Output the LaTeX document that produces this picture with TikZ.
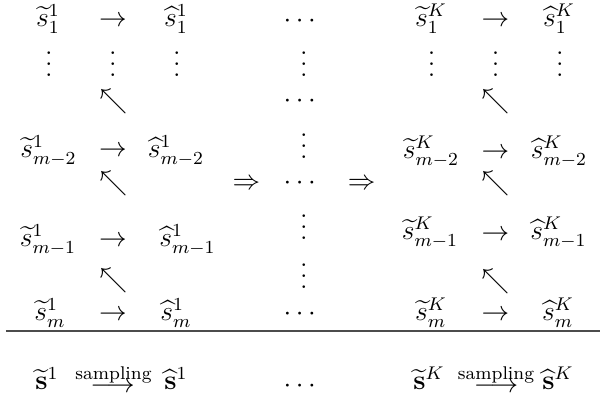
\documentclass[tikz,border=0pt]{standalone}
\usepackage{amsmath}
\newcommand{\myvd}{\vbox{\baselineskip=4.8pt\lineskiplimit=0pt\hbox{.}\hbox{.}\hbox{.}}}
\begin{document}
\begin{tikzpicture}[x=0.43478pt,y=-0.43478pt,
  every node/.style={inner sep=0pt,outer sep=0pt,anchor=base,font=\large},
  lbl/.style={font=\footnotesize},
  rulel/.style={line width=0.8pt,draw=black!70}]
\useasboundingbox (0,0) rectangle (600,403);
% row 1
\node (a1) at (48,27) {$\widetilde{s}^1_1$};
\node (b1) at (113,27) {$\rightarrow$};
\node (c1) at (176,27) {$\widehat{s}^1_1$};
\node (m1) at (302,27.7) {$\cdots$};
\node (d1) at (431,27) {$\widetilde{s}^K_1$};
\node (e1) at (495.5,27) {$\rightarrow$};
\node (f1) at (559,27) {$\widehat{s}^K_1$};
% row 2
\node (a2) at (49,76.5) {\myvd};
\node (b2) at (113,76.5) {\myvd};
\node (c2) at (177,76.5) {\myvd};
\node (m2) at (304,76.5) {\myvd};
\node (d2) at (431.7,76.5) {\myvd};
\node (e2) at (495.7,76.5) {\myvd};
\node (f2) at (560,76.5) {\myvd};
% row 3
\node (b3) at (113.5,108.5) {$\nwarrow$};
\node (m3) at (302,108) {$\cdots$};
\node (e3) at (495.5,108.5) {$\nwarrow$};
% row 4
\node (a4) at (48.5,157.5) {$\widetilde{s}^1_{m-2}$};
\node (b4) at (113,157) {$\rightarrow$};
\node (c4) at (176,157.5) {$\widehat{s}^1_{m-2}$};
\node (m4) at (304,158.2) {\myvd};
\node (d4) at (431,158.5) {$\widetilde{s}^K_{m-2}$};
\node (e4) at (495.5,158.7) {$\rightarrow$};
\node (f4) at (559,158.5) {$\widehat{s}^K_{m-2}$};
% row 5
\node (b5) at (113.5,190.5) {$\nwarrow$};
\node (l5) at (246.5,190) {$\Rightarrow$};
\node (m5) at (302,189.7) {$\cdots$};
\node (r5) at (361.7,190) {$\Rightarrow$};
\node (e5) at (495.5,190.5) {$\nwarrow$};
% row 6
\node (a6) at (48,247) {$\widetilde{s}^1_{m-1}$};
\node (b6) at (113,247) {$\rightarrow$};
\node (c6) at (187.5,247) {$\widehat{s}^1_{m-1}$};
\node (m6) at (304,239.5) {\myvd};
\node (d6) at (430,240) {$\widetilde{s}^K_{m-1}$};
\node (e6) at (495.5,240.3) {$\rightarrow$};
\node (f6) at (558.5,240) {$\widehat{s}^K_{m-1}$};
% row 7
\node (b7) at (113.5,288) {$\nwarrow$};
\node (m7) at (304,288.8) {\myvd};
\node (e7) at (495.5,288.5) {$\nwarrow$};
% row 8
\node (a8) at (50,320.5) {$\widetilde{s}^1_m$};
\node (b8) at (113,320.5) {$\rightarrow$};
\node (c8) at (176,320.5) {$\widehat{s}^1_m$};
\node (m8) at (302,321) {$\cdots$};
\node (d8) at (431,321) {$\widetilde{s}^K_m$};
\node (e8) at (495.5,321) {$\rightarrow$};
\node (f8) at (558,321) {$\widehat{s}^K_m$};
% rule
\coordinate (rl) at (6,330.7);
\coordinate (rr) at (600,330.7);
\draw[rulel] (rl) -- (rr);
% bottom row
\node (A) at (47,390) {$\widetilde{\mathbf{s}}^1$};
\node (B) at (112.5,393) {$\longrightarrow$};
\node[lbl] (Bl) at (113.5,380) {sampling};
\node (C) at (176,390) {$\widehat{\mathbf{s}}^1$};
\node (M) at (302,393) {$\cdots$};
\node (D) at (429,390) {$\widetilde{\mathbf{s}}^K$};
\node (E) at (496,393) {$\longrightarrow$};
\node[lbl] (El) at (496,380) {sampling};
\node (F) at (558,390) {$\widehat{\mathbf{s}}^K$};
\end{tikzpicture}
\end{document}
